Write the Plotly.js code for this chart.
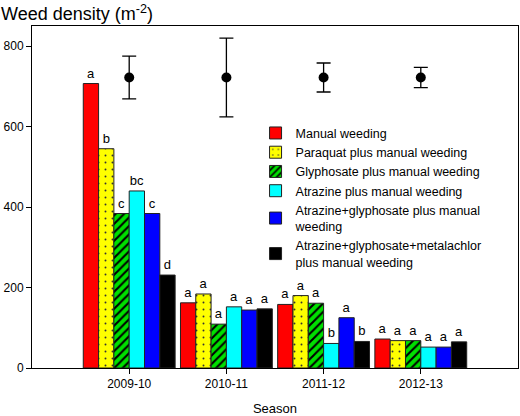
<!DOCTYPE html>
<html>
<head>
<meta charset="utf-8">
<script src="https://cdn.plot.ly/plotly-3.0.1.min.js"></script>
<style>html,body{margin:0;padding:0;background:#fff;}#chart{width:520px;height:416px;}</style>
</head>
<body>
<div id="chart"></div>
<script>
// Data
const seasons = ["2009-10", "2010-11", "2011-12", "2012-13"];
const seasonPos = [1, 2, 3, 4];
const manual = [707, 162, 158, 72];
const paraquat = [545, 184, 180, 68];
const glyphosate = [384, 109, 161, 68];
const atrazine = [440, 152, 61, 52];
const atrazineGly = [384, 144, 125, 52];
const atrazineGlyMet = [231, 147, 66, 65];
const lettersManual = ["a", "a", "a", "a"];
const lettersParaquat = ["b", "a", "a", "a"];
const lettersGlyphosate = ["c", "a", "a", "a"];
const lettersAtrazine = ["bc", "a", "b", "a"];
const lettersAtrazineGly = ["c", "a", "a", "a"];
const lettersAtrazineGlyMet = ["d", "a", "b", "a"];
const seedbankMean = [722, 722, 722, 722];
const seedbankErr = [53, 98, 36, 25];
const names = ["Manual weeding", "Paraquat plus manual weeding", "Glyphosate plus manual weeding",
  "Atrazine plus manual weeding", "Atrazine+glyphosate plus manual<br>weeding",
  "Atrazine+glyphosate+metalachlor<br>plus manual weeding"];

const series = [manual, paraquat, glyphosate, atrazine, atrazineGly, atrazineGlyMet];
const letters = [lettersManual, lettersParaquat, lettersGlyphosate, lettersAtrazine, lettersAtrazineGly, lettersAtrazineGlyMet];
const colors = ["#ff0000", "#ffff00", "#00e000", "#00ffff", "#0000ff", "#000000"];
const patterns = ["", ".", "/", "", "", ""];

const traces = series.map((vals, i) => {
  const marker = {color: colors[i], line: {color: "#222", width: 1}};
  if (patterns[i] === ".") {
    marker.pattern = {shape: ".", fillmode: "replace", bgcolor: colors[i], fgcolor: "#333",
      size: 7, solidity: 0.06};
  } else if (patterns[i] === "/") {
    marker.pattern = {shape: "/", fillmode: "replace", bgcolor: colors[i], fgcolor: "#000",
      size: 6, solidity: 0.35};
  }
  return {
    type: "bar", x: seasonPos, y: vals, name: names[i], marker: marker,
    text: letters[i], textposition: "outside", constraintext: "none", cliponaxis: false,
    textfont: {family: "Arial, Liberation Sans, sans-serif", size: 13, color: "#000"},
    hoverinfo: "y"
  };
});

traces.push({
  type: "scatter", mode: "markers", x: seasonPos, y: seedbankMean, showlegend: false,
  marker: {color: "#000", size: 10},
  error_y: {type: "data", array: seedbankErr, visible: true, color: "#000", thickness: 1.3, width: 7},
  cliponaxis: false
});

const layout = {
  width: 520, height: 416,
  margin: {l: 32, r: 2, t: 26, b: 48},
  paper_bgcolor: "#fff", plot_bgcolor: "#fff",
  font: {family: "Arial, Liberation Sans, sans-serif", color: "#000", size: 12},
  title: {text: "Weed density (m<sup>-2</sup>)", xref: "container", x: 0.002, xanchor: "left",
    yref: "container", y: 0.966, yanchor: "middle",
    font: {family: "Arial, Liberation Sans, sans-serif", size: 18, color: "#000"}},
  barmode: "group", bargap: 0.055, bargroupgap: 0,
  xaxis: {range: [0, 5], tickvals: seasonPos, ticktext: seasons, ticks: "outside", ticklen: 5,
    tickcolor: "#000", showline: true, linecolor: "#000", linewidth: 1, mirror: true,
    showgrid: false, zeroline: false, tickfont: {size: 12},
    title: {text: "Season", font: {size: 13}, standoff: 14}},
  yaxis: {range: [0, 850], tickvals: [0, 200, 400, 600, 800], ticks: "outside", ticklen: 5,
    tickcolor: "#000", showline: true, linecolor: "#000", linewidth: 1, mirror: true,
    showgrid: false, zeroline: false, tickfont: {size: 12}},
  legend: {x: 0.46, xanchor: "left", y: 0.73, yanchor: "top", bgcolor: "rgba(0,0,0,0)",
    font: {size: 12.5}, tracegroupgap: 0, itemwidth: 30},
  showlegend: true
};

Plotly.newPlot("chart", traces, layout, {staticPlot: true});
</script>
</body>
</html>
